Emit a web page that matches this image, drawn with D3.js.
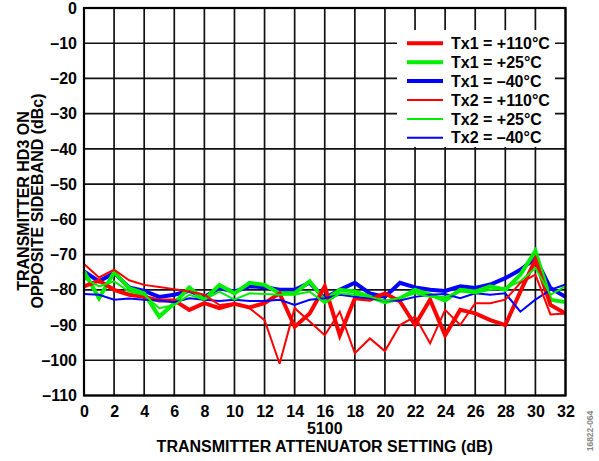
<!DOCTYPE html>
<html>
<head>
<meta charset="utf-8">
<script src="https://cdn.jsdelivr.net/npm/d3@7"></script>
<style>
html,body{margin:0;padding:0;background:#fff;}
svg{display:block;}
text{font-family:"Liberation Sans",Arial,sans-serif;font-weight:bold;fill:#000;}
</style>
</head>
<body>
<svg id="chart" width="599" height="461"></svg>
<script>
const xValues = d3.range(0, 33);
const xTicks = [0,2,4,6,8,10,12,14,16,18,20,22,24,26,28,30,32];
const yTicks = [0,-10,-20,-30,-40,-50,-60,-70,-80,-90,-100,-110];

const tx1_110 = [-79,-77.4,-80,-81.4,-82,-83,-83,-85.7,-83.8,-85.2,-84,-85,-83.8,-81,-90.5,-86.7,-79,-92.9,-82.4,-82.8,-81,-83.3,-90,-82.8,-92.9,-85.7,-86.7,-88.6,-90,-80.5,-71.4,-84.3,-86.7];
const tx1_25  = [-74.8,-82.4,-75,-79.5,-81,-87.6,-83.8,-79.3,-82.8,-78.6,-81,-78,-78.6,-81,-81,-77.6,-83,-80,-80.5,-82,-83.5,-82.4,-80,-81.4,-83,-80,-80.5,-79,-80,-75.7,-69,-82.8,-83.5];
const tx1_m40 = [-74.8,-77.6,-75.2,-79.3,-80.3,-82,-81.4,-80.3,-82,-79.5,-80.5,-79,-79.3,-80,-80,-78,-82.4,-80,-78,-81,-82,-78,-79.3,-80,-80.3,-79,-79.5,-78.5,-76.7,-74.3,-71,-79.5,-82];
const tx2_110 = [-72.7,-76.5,-74.3,-77.3,-78.6,-79.2,-79.8,-80.5,-81.4,-84.3,-83.8,-85.2,-88.6,-101,-85.2,-89,-92.9,-86.2,-98,-93.8,-97.4,-90,-87.6,-95.2,-85.7,-90,-83.8,-83.8,-82.8,-78,-75.7,-87,-86.7];
const tx2_25  = [-76.7,-79,-77.6,-80.5,-81.4,-85.2,-84.3,-81.4,-82.8,-80.5,-82.8,-81,-81.2,-81.4,-81.4,-80.5,-83.8,-81,-81.4,-82,-83,-82.4,-81,-82,-82,-80.5,-81,-80,-79.5,-77.6,-73.8,-81.4,-79];
const tx2_m40 = [-81.2,-81.4,-82.8,-82.5,-82.8,-83,-83.5,-82.4,-82.8,-83.2,-82.8,-83.2,-83.2,-82.8,-84.3,-82.8,-82.4,-81.4,-82,-82.4,-83,-83,-82,-81.4,-81.2,-82.4,-81,-81.4,-81,-86.2,-82.8,-80,-78.5];

const seriesNames = ["Tx1 = +110°C","Tx1 = +25°C","Tx1 = –40°C","Tx2 = +110°C","Tx2 = +25°C","Tx2 = –40°C"];
const seriesData = [tx1_110, tx1_25, tx1_m40, tx2_110, tx2_25, tx2_m40];
const seriesColors = ["#ff0000","#00ee00","#0000ff","#ff0000","#00ee00","#0000ff"];
const seriesWidths = [4,4,4,2,2,2];
const drawOrder = [2,1,0,5,4,3];

const FS = 16;
const svg = d3.select("#chart");
const L = 84, R = 565.5, T = 8, B = 395.5;
const x = d3.scaleLinear().domain([0,32]).range([L,R]);
const y = d3.scaleLinear().domain([-110,0]).range([B,T]);
const fmt = v => v < 0 ? "–" + Math.abs(v) : String(v);

// grid
const g = svg.append("g");
g.selectAll(".vg").data(xTicks).enter().append("line")
  .attr("x1", d=>x(d)).attr("x2", d=>x(d)).attr("y1", T).attr("y2", B)
  .attr("stroke", "#111").attr("stroke-width", 1.7);
g.selectAll(".hg").data(yTicks).enter().append("line")
  .attr("x1", L).attr("x2", R).attr("y1", d=>y(d)).attr("y2", d=>y(d))
  .attr("stroke", "#111").attr("stroke-width", 1.7);

// legend background (covers grid)
svg.append("rect").attr("x", 397).attr("y", 30).attr("width", 158).attr("height", 117).attr("fill", "#fff");

// series
const line = d3.line().x((d,i)=>x(xValues[i])).y(d=>y(d));
drawOrder.forEach(k=>{
  svg.append("path").datum(seriesData[k]).attr("d", line)
    .attr("fill","none").attr("stroke", seriesColors[k]).attr("stroke-width", seriesWidths[k])
    .attr("stroke-linejoin","miter").attr("stroke-miterlimit", 3);
});

// frame
svg.append("rect").attr("x", L).attr("y", T).attr("width", R-L).attr("height", B-T)
  .attr("fill","none").attr("stroke","#000").attr("stroke-width", 2.2);

// axes (labels only)
const yAxis = d3.axisLeft(y).tickValues(yTicks).tickFormat(fmt).tickSize(0).tickPadding(7);
const ya = svg.append("g").attr("transform", `translate(${L},0)`).call(yAxis);
ya.select(".domain").remove();
ya.selectAll("text").attr("font-size", FS).attr("font-family", '"Liberation Sans",Arial,sans-serif').attr("font-weight","bold").attr("fill","#000");

const xAxis = d3.axisBottom(x).tickValues(xTicks).tickFormat(fmt).tickSize(0).tickPadding(10);
const xa = svg.append("g").attr("transform", `translate(0,${B})`).call(xAxis);
xa.select(".domain").remove();
xa.selectAll("text").attr("font-size", FS).attr("font-family", '"Liberation Sans",Arial,sans-serif').attr("font-weight","bold").attr("fill","#000");

// axis titles
svg.append("text").attr("x", (L+R)/2).attr("y", 434).attr("text-anchor","middle").attr("font-size", FS).text("5100");
svg.append("text").attr("x", (L+R)/2).attr("y", 452).attr("text-anchor","middle").attr("font-size", FS).text("TRANSMITTER ATTENUATOR SETTING (dB)");
svg.append("text").attr("transform","translate(29,201) rotate(-90)").attr("text-anchor","middle").attr("font-size", FS).text("TRANSMITTER HD3 ON");
svg.append("text").attr("transform","translate(43,201) rotate(-90)").attr("text-anchor","middle").attr("font-size", FS).text("OPPOSITE SIDEBAND (dBc)");

// legend
const legRows = [43.3, 62.3, 81, 100, 119, 137.7];
seriesNames.forEach((nm,k)=>{
  svg.append("line").attr("x1",407).attr("x2",443).attr("y1",legRows[k]).attr("y2",legRows[k])
    .attr("stroke",seriesColors[k]).attr("stroke-width",seriesWidths[k]);
  svg.append("text").attr("x",451).attr("y",legRows[k]+5.7).attr("font-size",FS).text(nm);
});

// figure id
svg.append("text").attr("transform","translate(593,431) rotate(-90)").attr("text-anchor","middle")
  .attr("font-size",8.5).attr("font-weight","normal").style("fill","#888").text("16822-064");
</script>
</body>
</html>
